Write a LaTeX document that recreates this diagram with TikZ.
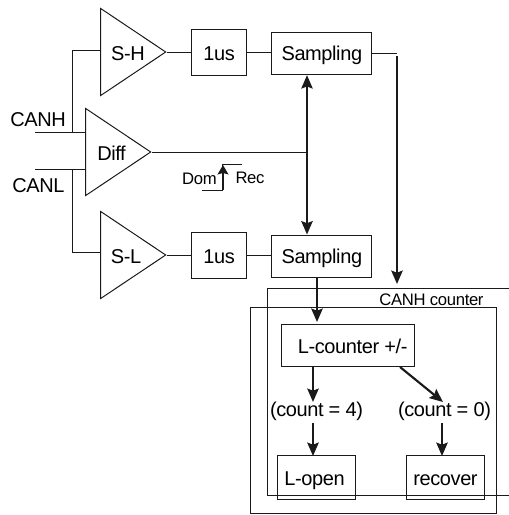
\documentclass[tikz,border=0pt]{standalone}
\usepackage{fontspec}
\setmainfont[LetterSpace=-2]{Liberation Sans}
\usetikzlibrary{shapes.geometric,arrows.meta,positioning,calc}
\definecolor{wire}{HTML}{1A1A1A}

\begin{document}
\begin{tikzpicture}[
    x=0.75pt, y=-0.75pt,
    node distance=18pt,
    amp/.style={draw=wire, line width=0.75pt, shape=isosceles triangle, isosceles triangle stretches, shape border rotate=0, minimum height=65pt*0.75, minimum width=87pt*0.75, inner sep=0pt, anchor=apex},
    box/.style={draw=wire, line width=0.75pt, inner sep=0pt, text height=15pt, text depth=3pt, font=\fontsize{15}{17}\selectfont},
    delaybox/.style={box, minimum width=41.5pt, minimum height=34.5pt, text height=13pt, text depth=0pt},
    sampbox/.style={box, minimum width=75pt, minimum height=32pt, text height=13pt},
    endbox/.style={box, minimum width=58pt, minimum height=32.5pt},
    frame/.style={draw=wire, line width=0.75pt},
    wirel/.style={draw=wire, line width=0.75pt},
    arrow/.style={-{Stealth[length=10pt,width=8.5pt,inset=1.5pt]}, line width=1.6pt, wire},
    label/.style={font=\fontsize{15}{17}\selectfont, inner sep=0pt, anchor=base},
    small/.style={font=\fontsize{12.5}{14}\selectfont, inner sep=0pt, anchor=base}
]
    \useasboundingbox (0,0) rectangle (509,515);
    % amplifiers
    \node[amp] (sh) at (167,52) {};
    \node[amp] (diff) at (152,152) {};
    \node[amp] (sl) at (167,255) {};
    \node[label] (shtext) at (128,60.5) {S-H};
    \node[label] (difftext) at (111.5,160) {Diff};
    \node[label] (sltext) at (126,263) {S-L};
    % delay and sampling
    \node[delaybox, right=of sh.apex] (delayh) {1us};
    \node[sampbox, right=of delayh, yshift=-1pt] (samph) {Sampling};
    \node[delaybox, right=of sl.apex] (delayl) {1us};
    \node[sampbox, right=of delayl, yshift=-1pt] (sampl) {Sampling};
    % counter frames
    \coordinate (cantl) at (267,288);
    \coordinate (cantr) at (509,288);
    \coordinate (canbl) at (267,495);
    \coordinate (canbr) at (509,495);
    \draw[frame] (cantr) -- (cantl) -- (canbl) -- (canbr);
    \node[draw=wire, line width=0.75pt, minimum width=184.5pt, minimum height=155pt, inner sep=0pt] (lframe) at (373,410.5) {};
    \node[small] (cantext) at (431.5,305) {CANH counter};
    \node[box, minimum width=100pt, minimum height=32pt] (lcount) at (348,345.5) {\hspace*{7pt}L-counter +/-};
    \node[label] (cnt4) at (316.5,416) {(count = 4)};
    \node[label] (cnt0) at (444.5,416) {(count = 0)};
    \node[endbox] (lopen) at (316.5,477.5) {\hspace*{-3pt}L-open};
    \node[endbox] (recover) at (445.5,477.5) {recover};
    % inputs
    \coordinate (canh) at (35,132);
    \coordinate (canl) at (35,169);
    \coordinate (bus) at (72,0);
    \node[label] (canhtext) at (38,126) {CANH};
    \node[label] (canltext) at (38.5,192.5) {CANL};
    \draw[wirel] (canh) -- (canh -| diff.lower side);
    \draw[wirel] (canl) -- (canl -| diff.lower side);
    \coordinate (shin) at (sh.lower side |- 0,50);
    \coordinate (slin) at (sl.lower side |- 0,252);
    \draw[wirel] (bus |- canh) -- (bus |- shin) -- (shin);
    \draw[wirel] (bus |- canl) -- (bus |- slin) -- (slin);
    % signal path
    \draw[wirel] (sh.apex) -- (delayh);
    \draw[wirel] (delayh) -- (samph.west |- delayh);
    \draw[wirel] (sl.apex) -- (delayl);
    \draw[wirel] (delayl) -- (sampl.west |- delayl);
    \coordinate (junction) at (307,152);
    \draw[wirel] (diff.apex) -- (junction);
    \draw[arrow, {Stealth[length=10pt,width=8.5pt,inset=1.5pt]}-{Stealth[length=10pt,width=8.5pt,inset=1.5pt]}] (junction |- samph.south) -- (junction |- sampl.north);
    % dominant / recessive
    \node[small] (domtext) at (199.5,184.5) {Dom};
    \node[small] (rectext) at (250,183.5) {Rec};
    \coordinate (edgelow) at (202,190);
    \coordinate (edgetop) at (222,164);
    \coordinate (edgeup) at (242,164);
    \draw[wirel] (edgelow) -| (edgetop) -- (edgeup);
    \draw[-{Stealth[length=7pt,width=8pt,inset=1pt]}, line width=1.5pt, wire] (223,190) -- (223,165);
    % counter arrows
    \coordinate (sampout) at (397,53);
    \draw[wirel] (samph.east |- sampout) -- (sampout);
    \draw[arrow] (sampout |- 0,56) -- (sampout |- 0,284);
    \draw[arrow] (sampl.south -| 317,0) -- (317,322);
    \draw[arrow] (313,366.5) -- (313,402);
    \draw[arrow] (400,367) -- (443,402);
    \draw[arrow] (313,423) -- (313,456);
    \draw[arrow] (442,423) -- (442,456);
\end{tikzpicture}
\end{document}
